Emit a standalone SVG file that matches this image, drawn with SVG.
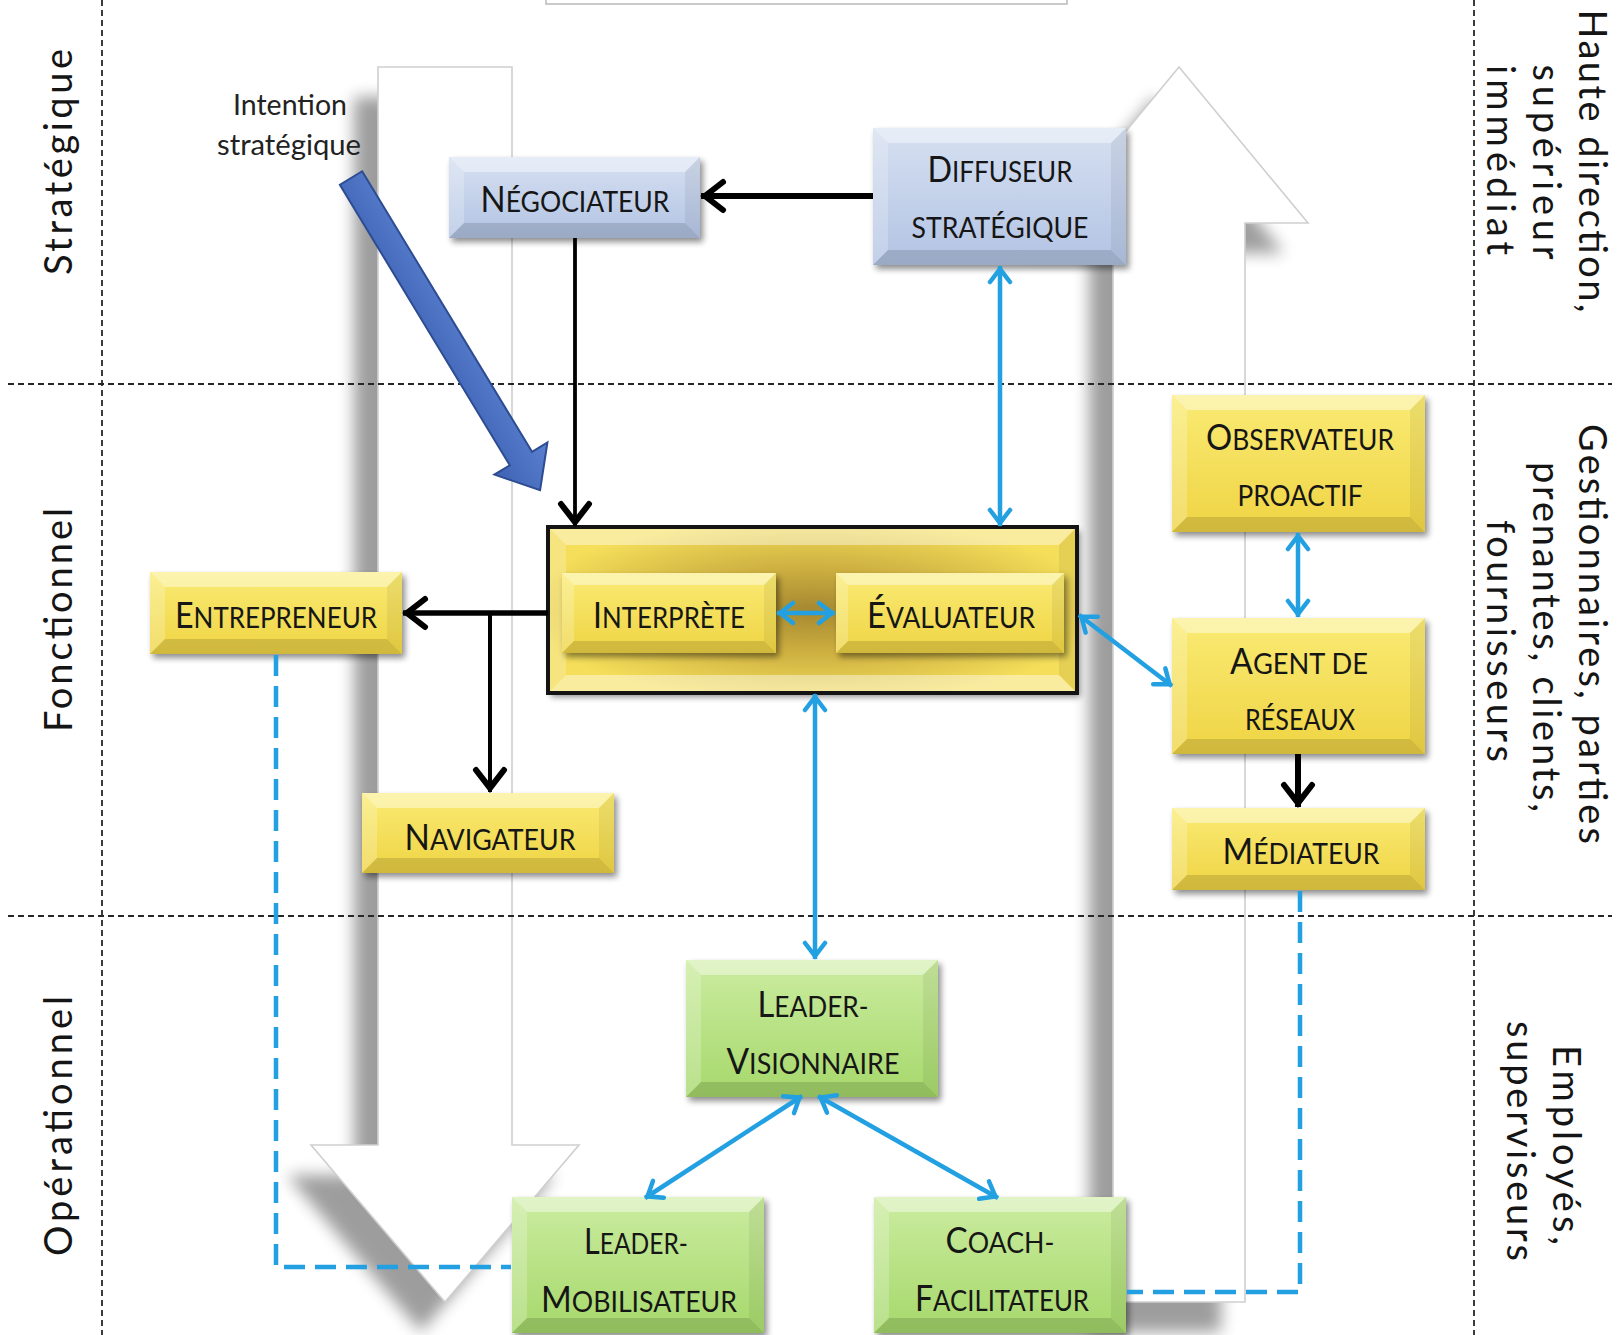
<svg xmlns="http://www.w3.org/2000/svg" width="1617" height="1335" viewBox="0 0 1617 1335">
<defs>
<style>
.grid{stroke:#262626;stroke-width:1.8;stroke-dasharray:6 4;fill:none}
.side{font-family:Lato,"Liberation Sans",sans-serif;font-size:38px;fill:#151515;text-anchor:middle}
.t{font-family:Lato,"Liberation Sans",sans-serif;font-size:29px;fill:#161616;text-anchor:middle}
.B{font-size:36px}
.lab{font-family:Lato,"Liberation Sans",sans-serif;font-size:28px;fill:#222;text-anchor:middle}
.yb{fill:url(#gy)}
.bb0{fill:url(#gbl)}
.gb{fill:url(#ggr)}
.bt{fill:#fff;opacity:.42}
.bl{fill:#fff;opacity:.22}
.br{fill:#000;opacity:.06}
.bb{fill:#000;opacity:.13}
.blk{stroke:#000;fill:none}
.blu{stroke:#22a0e2;fill:none;stroke-width:4.5}
.dsh{stroke:#22a0e2;fill:none;stroke-width:4.5;stroke-dasharray:21 10}
.big{fill:#fff;stroke:#cfcfcf;stroke-width:1.6}
</style>
<linearGradient id="gy" x1="0" y1="0" x2="0" y2="1"><stop offset="0" stop-color="#faeb74"/><stop offset="1" stop-color="#efd444"/></linearGradient>
<linearGradient id="gbl" x1="0" y1="0" x2="0" y2="1"><stop offset="0" stop-color="#d6e0f1"/><stop offset="1" stop-color="#b2c3e3"/></linearGradient>
<linearGradient id="ggr" x1="0" y1="0" x2="0" y2="1"><stop offset="0" stop-color="#cbeca0"/><stop offset="1" stop-color="#a6d86b"/></linearGradient>
<linearGradient id="gar" x1="0" y1="0" x2="0" y2="1"><stop offset="0" stop-color="#5a80d0"/><stop offset="1" stop-color="#3f63b4"/></linearGradient>
<radialGradient id="gc" cx="0.5" cy="0.5" r="0.55"><stop offset="0" stop-color="#a58830"/><stop offset=".45" stop-color="#ccae40"/><stop offset="1" stop-color="#f4de5a"/></radialGradient>
<filter id="ds" x="-10%" y="-15%" width="125%" height="140%"><feGaussianBlur in="SourceAlpha" stdDeviation="3"/><feOffset dx="3" dy="4"/><feComponentTransfer><feFuncA type="linear" slope="0.45"/></feComponentTransfer><feMerge><feMergeNode/><feMergeNode in="SourceGraphic"/></feMerge></filter>
<filter id="blur" x="-20%" y="-10%" width="140%" height="120%"><feGaussianBlur stdDeviation="8"/></filter>
<marker id="mk" viewBox="0 0 36 36" refX="35" refY="18" markerWidth="36" markerHeight="36" markerUnits="userSpaceOnUse" orient="auto"><path d="M13,4 L31,18 L13,32" fill="none" stroke="#000" stroke-width="6" stroke-linejoin="miter" stroke-linecap="round"/></marker>
<marker id="mb" viewBox="0 0 26 26" refX="25" refY="13" markerWidth="26" markerHeight="26" markerUnits="userSpaceOnUse" orient="auto-start-reverse"><path d="M9,3 L22,13 L9,23" fill="none" stroke="#22a0e2" stroke-width="4.5" stroke-linejoin="miter" stroke-linecap="round"/></marker>
</defs>
<rect width="1617" height="1335" fill="#fff"/>

<g id="top-box"><rect x="546" y="-30" width="521" height="34" fill="#fff" stroke="#bdbdbd" stroke-width="1.6"/></g>

<g id="big-arrows">
<polygon points="378,67 512,67 512,1145 579,1145 445,1302 311,1145 378,1145" fill="#000" opacity=".38" filter="url(#blur)" transform="translate(-24,30)"/>
<polygon class="big" points="378,67 512,67 512,1145 579,1145 445,1302 311,1145 378,1145"/>
<polygon points="1179,67 1308,223 1245,223 1245,1302 1113,1302 1113,223 1050,223" fill="#000" opacity=".38" filter="url(#blur)" transform="translate(-24,30)"/>
<polygon class="big" points="1179,67 1308,223 1245,223 1245,1302 1113,1302 1113,223 1050,223"/>
</g>

<g id="grid">
<line class="grid" x1="8" y1="384" x2="1612" y2="384"/>
<line class="grid" x1="8" y1="916" x2="1612" y2="916"/>
<line class="grid" x1="102" y1="0" x2="102" y2="1335"/>
<line class="grid" x1="1474" y1="0" x2="1474" y2="1335"/>
</g>

<g id="side-labels">
<text class="side" transform="translate(72,162) rotate(-90)" textLength="226" lengthAdjust="spacing">Stratégique</text>
<text class="side" transform="translate(72,620) rotate(-90)" textLength="224" lengthAdjust="spacing">Fonctionnel</text>
<text class="side" transform="translate(72,1126) rotate(-90)" textLength="260" lengthAdjust="spacing">Opérationnel</text>
<text class="side" transform="translate(1579,161) rotate(90)" textLength="303" lengthAdjust="spacing">Haute direction,</text>
<text class="side" transform="translate(1533,162) rotate(90)" textLength="195" lengthAdjust="spacing">supérieur</text>
<text class="side" transform="translate(1487,160) rotate(90)" textLength="190" lengthAdjust="spacing">immédiat</text>
<text class="side" transform="translate(1579,634) rotate(90)" textLength="420" lengthAdjust="spacing">Gestionnaires, parties</text>
<text class="side" transform="translate(1533,637) rotate(90)" textLength="350" lengthAdjust="spacing">prenantes, clients,</text>
<text class="side" transform="translate(1487,641) rotate(90)" textLength="242" lengthAdjust="spacing">fournisseurs</text>
<text class="side" transform="translate(1553,1145) rotate(90)" textLength="200" lengthAdjust="spacing">Employés,</text>
<text class="side" transform="translate(1507,1141) rotate(90)" textLength="240" lengthAdjust="spacing">superviseurs</text>
</g>

<g id="intention">
<text class="lab" x="290" y="115" textLength="114" lengthAdjust="spacingAndGlyphs">Intention</text>
<text class="lab" x="289" y="155" textLength="144" lengthAdjust="spacingAndGlyphs">stratégique</text>
<polygon points="0,-13 328,-13 328,-31 365,0 328,31 328,13 0,13" transform="translate(351,178) rotate(58.8)" fill="url(#gar)" stroke="#2d4c92" stroke-width="2"/>
</g>

<g id="n-negociateur">
<rect class="bb0" x="449" y="157" width="251" height="81" filter="url(#ds)"/>
<polygon class="bt" points="449,157 700,157 685,172 464,172"/><polygon class="bl" points="449,157 464,172 464,223 449,238"/><polygon class="br" points="700,157 700,238 685,223 685,172"/><polygon class="bb" points="449,238 464,223 685,223 700,238"/>
<text class="t" x="575" y="212" textLength="189" lengthAdjust="spacingAndGlyphs"><tspan class="B">N</tspan>ÉGOCIATEUR</text>
</g>

<g id="n-diffuseur">
<rect class="bb0" x="873" y="128" width="253" height="137" filter="url(#ds)"/>
<polygon class="bt" points="873,128 1126,128 1111,143 888,143"/><polygon class="bl" points="873,128 888,143 888,250 873,265"/><polygon class="br" points="1126,128 1126,265 1111,250 1111,143"/><polygon class="bb" points="873,265 888,250 1111,250 1126,265"/>
<text class="t" x="1000" y="182" textLength="145" lengthAdjust="spacingAndGlyphs"><tspan class="B">D</tspan>IFFUSEUR</text>
<text class="t" x="1000" y="238" textLength="177" lengthAdjust="spacingAndGlyphs">STRATÉGIQUE</text>
</g>

<g id="n-cellule">
<rect x="548" y="527" width="529" height="166" fill="url(#gc)" filter="url(#ds)"/>
<polygon class="bt" points="548,527 1077,527 1059,545 566,545"/><polygon class="bl" points="548,527 566,545 566,675 548,693"/><polygon class="br" points="1077,527 1077,693 1059,675 1059,545"/><polygon class="bt" points="548,693 566,675 1059,675 1077,693" opacity=".25"/>
<rect x="548" y="527" width="529" height="166" fill="none" stroke="#141414" stroke-width="4"/>
</g>

<g id="n-interprete">
<rect class="yb" x="562" y="573" width="214" height="80" filter="url(#ds)"/>
<polygon class="bt" points="562,573 776,573 764,585 574,585"/><polygon class="bl" points="562,573 574,585 574,641 562,653"/><polygon class="br" points="776,573 776,653 764,641 764,585"/><polygon class="bb" points="562,653 574,641 764,641 776,653"/>
<text class="t" x="669" y="628" textLength="152" lengthAdjust="spacingAndGlyphs"><tspan class="B">I</tspan>NTERPRÈTE</text>
</g>

<g id="n-evaluateur">
<rect class="yb" x="836" y="573" width="228" height="80" filter="url(#ds)"/>
<polygon class="bt" points="836,573 1064,573 1052,585 848,585"/><polygon class="bl" points="836,573 848,585 848,641 836,653"/><polygon class="br" points="1064,573 1064,653 1052,641 1052,585"/><polygon class="bb" points="836,653 848,641 1052,641 1064,653"/>
<text class="t" x="951" y="628" textLength="168" lengthAdjust="spacingAndGlyphs"><tspan class="B">É</tspan>VALUATEUR</text>
</g>

<g id="n-entrepreneur">
<rect class="yb" x="150" y="572" width="252" height="82" filter="url(#ds)"/>
<polygon class="bt" points="150,572 402,572 387,587 165,587"/><polygon class="bl" points="150,572 165,587 165,639 150,654"/><polygon class="br" points="402,572 402,654 387,639 387,587"/><polygon class="bb" points="150,654 165,639 387,639 402,654"/>
<text class="t" x="276" y="628" textLength="202" lengthAdjust="spacingAndGlyphs"><tspan class="B">E</tspan>NTREPRENEUR</text>
</g>

<g id="n-navigateur">
<rect class="yb" x="362" y="793" width="252" height="80" filter="url(#ds)"/>
<polygon class="bt" points="362,793 614,793 599,808 377,808"/><polygon class="bl" points="362,793 377,808 377,858 362,873"/><polygon class="br" points="614,793 614,873 599,858 599,808"/><polygon class="bb" points="362,873 377,858 599,858 614,873"/>
<text class="t" x="490" y="850" textLength="171" lengthAdjust="spacingAndGlyphs"><tspan class="B">N</tspan>AVIGATEUR</text>
</g>

<g id="n-observateur">
<rect class="yb" x="1172" y="395" width="253" height="137" filter="url(#ds)"/>
<polygon class="bt" points="1172,395 1425,395 1410,410 1187,410"/><polygon class="bl" points="1172,395 1187,410 1187,517 1172,532"/><polygon class="br" points="1425,395 1425,532 1410,517 1410,410"/><polygon class="bb" points="1172,532 1187,517 1410,517 1425,532"/>
<text class="t" x="1300" y="450" textLength="188" lengthAdjust="spacingAndGlyphs"><tspan class="B">O</tspan>BSERVATEUR</text>
<text class="t" x="1300" y="506" textLength="125" lengthAdjust="spacingAndGlyphs">PROACTIF</text>
</g>

<g id="n-agent">
<rect class="yb" x="1172" y="618" width="253" height="136" filter="url(#ds)"/>
<polygon class="bt" points="1172,618 1425,618 1410,633 1187,633"/><polygon class="bl" points="1172,618 1187,633 1187,739 1172,754"/><polygon class="br" points="1425,618 1425,754 1410,739 1410,633"/><polygon class="bb" points="1172,754 1187,739 1410,739 1425,754"/>
<text class="t" x="1299" y="674" textLength="138" lengthAdjust="spacingAndGlyphs"><tspan class="B">A</tspan>GENT DE</text>
<text class="t" x="1300" y="730" textLength="110" lengthAdjust="spacingAndGlyphs">RÉSEAUX</text>
</g>

<g id="n-mediateur">
<rect class="yb" x="1172" y="808" width="253" height="82" filter="url(#ds)"/>
<polygon class="bt" points="1172,808 1425,808 1410,823 1187,823"/><polygon class="bl" points="1172,808 1187,823 1187,875 1172,890"/><polygon class="br" points="1425,808 1425,890 1410,875 1410,823"/><polygon class="bb" points="1172,890 1187,875 1410,875 1425,890"/>
<text class="t" x="1301" y="864" textLength="157" lengthAdjust="spacingAndGlyphs"><tspan class="B">M</tspan>ÉDIATEUR</text>
</g>

<g id="n-visionnaire">
<rect class="gb" x="686" y="960" width="252" height="137" filter="url(#ds)"/>
<polygon class="bt" points="686,960 938,960 923,975 701,975"/><polygon class="bl" points="686,960 701,975 701,1082 686,1097"/><polygon class="br" points="938,960 938,1097 923,1082 923,975"/><polygon class="bb" points="686,1097 701,1082 923,1082 938,1097"/>
<text class="t" x="813" y="1017" textLength="111" lengthAdjust="spacingAndGlyphs"><tspan class="B">L</tspan>EADER-</text>
<text class="t" x="813" y="1074" textLength="173" lengthAdjust="spacingAndGlyphs"><tspan class="B">V</tspan>ISIONNAIRE</text>
</g>

<g id="n-mobilisateur">
<rect class="gb" x="512" y="1197" width="252" height="136" filter="url(#ds)"/>
<polygon class="bt" points="512,1197 764,1197 749,1212 527,1212"/><polygon class="bl" points="512,1197 527,1212 527,1318 512,1333"/><polygon class="br" points="764,1197 764,1333 749,1318 749,1212"/><polygon class="bb" points="512,1333 527,1318 749,1318 764,1333"/>
<text class="t" x="636" y="1254" textLength="104" lengthAdjust="spacingAndGlyphs"><tspan class="B">L</tspan>EADER-</text>
<text class="t" x="639" y="1312" textLength="196" lengthAdjust="spacingAndGlyphs"><tspan class="B">M</tspan>OBILISATEUR</text>
</g>

<g id="n-coach">
<rect class="gb" x="874" y="1197" width="252" height="136" filter="url(#ds)"/>
<polygon class="bt" points="874,1197 1126,1197 1111,1212 889,1212"/><polygon class="bl" points="874,1197 889,1212 889,1318 874,1333"/><polygon class="br" points="1126,1197 1126,1333 1111,1318 1111,1212"/><polygon class="bb" points="874,1333 889,1318 1111,1318 1126,1333"/>
<text class="t" x="1000" y="1253" textLength="109" lengthAdjust="spacingAndGlyphs"><tspan class="B">C</tspan>OACH-</text>
<text class="t" x="1002" y="1311" textLength="174" lengthAdjust="spacingAndGlyphs"><tspan class="B">F</tspan>ACILITATEUR</text>
</g>

<g id="connectors">
<line class="blk" x1="873" y1="196" x2="701" y2="196" stroke-width="6" marker-end="url(#mk)"/>
<line class="blk" x1="575" y1="238" x2="575" y2="526" stroke-width="3.8" marker-end="url(#mk)"/>
<line class="blk" x1="548" y1="613" x2="403" y2="613" stroke-width="5.5" marker-end="url(#mk)"/>
<line class="blk" x1="490" y1="613" x2="490" y2="792" stroke-width="4" marker-end="url(#mk)"/>
<line class="blk" x1="1298" y1="754" x2="1298" y2="807" stroke-width="6" marker-end="url(#mk)"/>
<line class="blu" x1="1000" y1="266" x2="1000" y2="526" marker-start="url(#mb)" marker-end="url(#mb)"/>
<line class="blu" x1="777" y1="613" x2="835" y2="613" stroke-width="5" marker-start="url(#mb)" marker-end="url(#mb)"/>
<line class="blu" x1="1079" y1="615" x2="1172" y2="686" marker-start="url(#mb)" marker-end="url(#mb)"/>
<line class="blu" x1="1298" y1="533" x2="1298" y2="617" marker-start="url(#mb)" marker-end="url(#mb)"/>
<line class="blu" x1="815" y1="694" x2="815" y2="959" marker-start="url(#mb)" marker-end="url(#mb)"/>
<line class="blu" x1="802" y1="1096" x2="645" y2="1198" marker-start="url(#mb)" marker-end="url(#mb)"/>
<line class="blu" x1="818" y1="1096" x2="998" y2="1198" marker-start="url(#mb)" marker-end="url(#mb)"/>
<path class="dsh" d="M276,655 V1267 H511"/>
<path class="dsh" d="M1300,891 V1292 H1127"/>
</g>
</svg>
